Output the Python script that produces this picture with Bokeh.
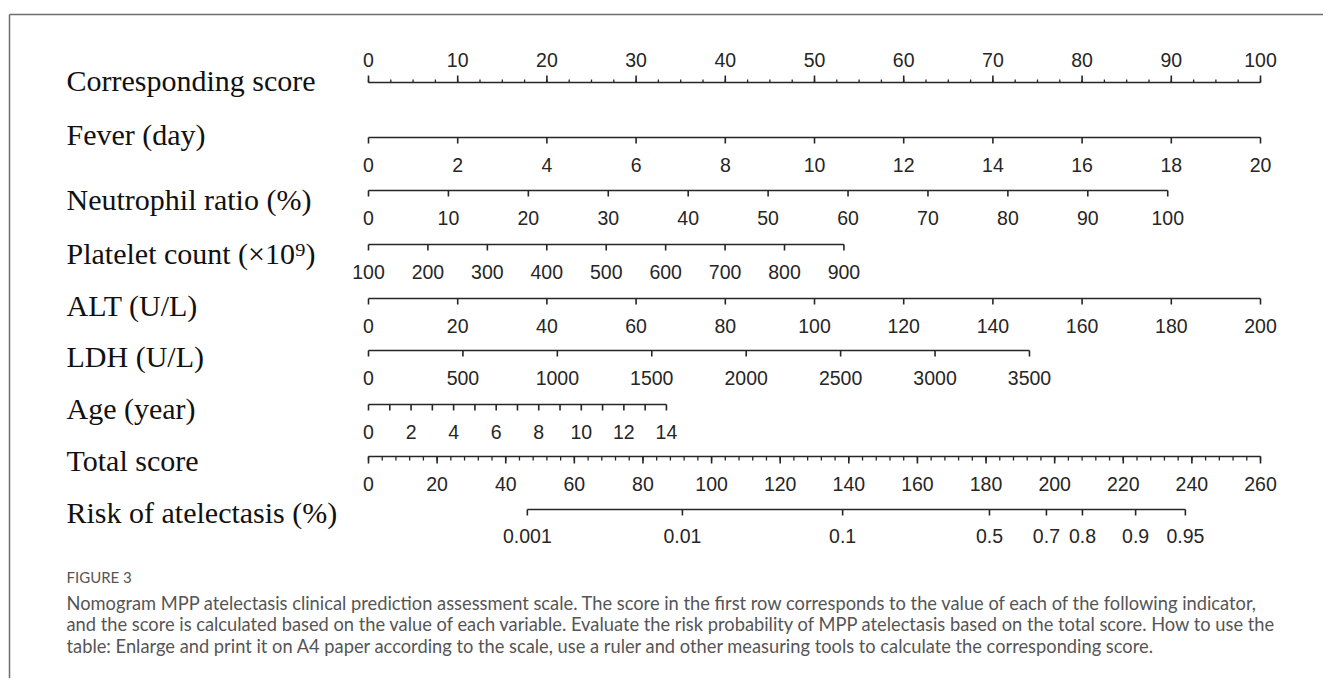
from bokeh.plotting import figure
from bokeh.models import Range1d
from bokeh.core.properties import value
from bokeh.embed import file_html
from bokeh.resources import INLINE

# ---------------- data ----------------
row_labels = ["Corresponding score", "Fever (day)", "Neutrophil ratio (%)",
              "Platelet count (\u00d710\u2079)", "ALT (U/L)", "LDH (U/L)",
              "Age (year)", "Total score", "Risk of atelectasis (%)"]

score_ticks = list(range(0, 101, 10))
score_minor = [i * 2.5 for i in range(41)]

fever_ticks = list(range(0, 21, 2))
fever_range = (0, 20)
fever_pts = 100.0

neut_ticks = list(range(0, 101, 10))
neut_range = (0, 100)
neut_pts = 89.6

plt_ticks = list(range(100, 901, 100))
plt_range = (100, 900)
plt_pts = 53.3

alt_ticks = list(range(0, 201, 20))
alt_range = (0, 200)
alt_pts = 100.0

ldh_ticks = list(range(0, 3501, 500))
ldh_range = (0, 3500)
ldh_pts = 74.1

age_ticks = list(range(0, 15))
age_labels = list(range(0, 15, 2))
age_range = (0, 14)
age_pts = 33.4

total_ticks = list(range(0, 261, 20))
total_minor = list(range(0, 261, 4))
total_max = 260

risk_labels = ["0.001", "0.01", "0.1", "0.5", "0.7", "0.8", "0.9", "0.95"]
risk_total = [46.3, 91.5, 138.2, 181.0, 197.6, 208.1, 223.6, 238.1]

caption_title = "FIGURE 3"
caption_lines = [
    "Nomogram MPP atelectasis clinical prediction assessment scale. The score in the first row corresponds to the value of each of the following indicator,",
    "and the score is calculated based on the value of each variable. Evaluate the risk probability of MPP atelectasis based on the total score. How to use the",
    "table: Enlarge and print it on A4 paper according to the scale, use a ruler and other measuring tools to calculate the corresponding score.",
]

# ---------------- layout ----------------
W, H = 1323, 678
PX_PER_PT = 8.92          # pixels per point
X0_PX = 368               # pixel of point 0
x_start = -X0_PX / PX_PER_PT
x_end = (W - X0_PX) / PX_PER_PT

p = figure(width=W, height=H, output_backend="svg", toolbar_location=None,
           x_range=Range1d(x_start, x_end), y_range=Range1d(H, 0),
           min_border=0, outline_line_color=None)
p.xaxis.visible = False
p.yaxis.visible = False
p.xgrid.visible = False
p.ygrid.visible = False
p.background_fill_color = "white"

LC = "#262626"
LW = 1.6
TICK_FONT = value("Liberation Sans")
TICK_SIZE = value("19.5px")
TICK_COLOR = "#262626"


def to_pts(v, rng, pmax):
    return (v - rng[0]) / (rng[1] - rng[0]) * pmax


def draw_axis(xs_major, labels, label_xs, y_line, xs_minor=None,
              major_len=6, minor_len=4, up=False, label_dy=27):
    allx = xs_major + (xs_minor or [])
    xmin, xmax = min(allx), max(allx)
    p.segment([xmin], [y_line], [xmax], [y_line], line_color=LC, line_width=LW)
    s = -1 if up else 1
    p.segment(xs_major, [y_line] * len(xs_major), xs_major,
              [y_line + s * major_len] * len(xs_major), line_color=LC, line_width=LW)
    if xs_minor:
        p.segment(xs_minor, [y_line] * len(xs_minor), xs_minor,
                  [y_line + s * minor_len] * len(xs_minor), line_color=LC, line_width=1.3)
    ly = y_line - 23 if up else y_line + label_dy
    p.text(label_xs, [ly] * len(label_xs), text=[str(l) for l in labels],
           text_font=TICK_FONT, text_font_size=TICK_SIZE, text_color=TICK_COLOR,
           text_align="center", text_baseline="middle")


# Corresponding score (ticks upward)
draw_axis([float(t) for t in score_ticks], score_ticks, score_ticks, 82,
          xs_minor=score_minor, major_len=7, minor_len=3, up=True)

# Fever
fx = [to_pts(v, fever_range, fever_pts) for v in fever_ticks]
draw_axis(fx, fever_ticks, fx, 137)

# Neutrophil
nx = [to_pts(v, neut_range, neut_pts) for v in neut_ticks]
draw_axis(nx, neut_ticks, nx, 190)

# Platelet
px_ = [to_pts(v, plt_range, plt_pts) for v in plt_ticks]
draw_axis(px_, plt_ticks, px_, 244)

# ALT
ax = [to_pts(v, alt_range, alt_pts) for v in alt_ticks]
draw_axis(ax, alt_ticks, ax, 298)

# LDH
lx = [to_pts(v, ldh_range, ldh_pts) for v in ldh_ticks]
draw_axis(lx, ldh_ticks, lx, 350)

# Age
agx = [to_pts(v, age_range, age_pts) for v in age_ticks]
aglx = [to_pts(v, age_range, age_pts) for v in age_labels]
draw_axis(agx, age_labels, aglx, 404)

# Total score
tx = [v / total_max * 100 for v in total_ticks]
tmx = [v / total_max * 100 for v in total_minor]
draw_axis(tx, total_ticks, tx, 456, xs_minor=tmx, major_len=7, minor_len=4)

# Risk
rx = [v / total_max * 100 for v in risk_total]
draw_axis(rx, risk_labels, rx, 509, label_dy=26)

# Row labels
label_x = (66 - X0_PX) / PX_PER_PT
label_y = [80, 134, 199, 253, 305, 356, 408, 460, 512]
p.text([label_x] * len(row_labels), label_y, text=row_labels,
       text_font=value("Liberation Serif"), text_font_size=value("30px"),
       text_color="#111111", text_align="left", text_baseline="middle")

# Frame (top and left rules)
fx0 = (9 - X0_PX) / PX_PER_PT
p.segment([fx0], [14], [x_end + 5], [14], line_color="#6e6e6e", line_width=1.5)
p.segment([fx0], [14], [fx0], [H + 10], line_color="#6e6e6e", line_width=1.5)

# Caption
p.text([label_x], [576], text=[caption_title], text_font=value("Lato"),
       text_font_size=value("15px"), text_color="#555555",
       text_align="left", text_baseline="middle")
p.text([label_x] * 3, [602, 623.5, 645], text=caption_lines, text_font=value("Lato"),
       text_font_size=value("18.3px"), text_color="#555555",
       text_align="left", text_baseline="middle")

open("out.html", "w").write(file_html(p, INLINE))
